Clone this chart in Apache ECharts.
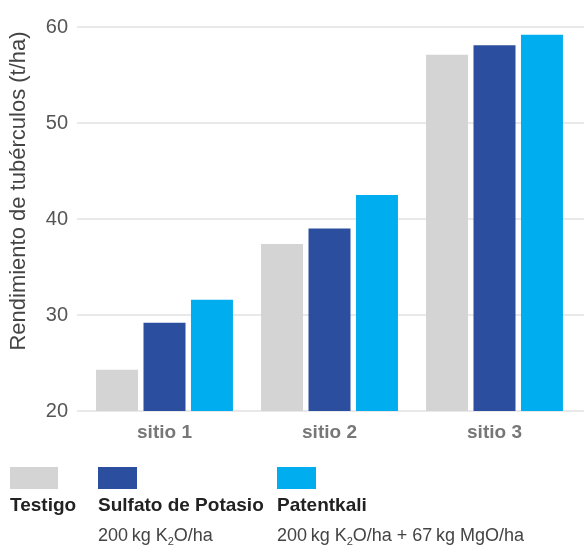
<!DOCTYPE html>
<html>
<head>
<meta charset="utf-8">
<script src="https://cdn.jsdelivr.net/npm/echarts@6/dist/echarts.min.js"></script>
<style>
  html, body { margin: 0; padding: 0; background: #fff; }
  #chart { width: 584px; height: 551px; }
</style>
</head>
<body>
<div id="chart"></div>
<script>
// Tuber yield per site under three fertiliser treatments
const sites = ['sitio 1', 'sitio 2', 'sitio 3'];
const testigo = [24.3, 37.4, 57.1];
const sulfato = [29.2, 39.0, 58.1];
const patentkali = [31.6, 42.5, 59.2];

const yTitle = 'Rendimiento de tubérculos (t/ha)';
const seriesNames = ['Testigo', 'Sulfato de Potasio', 'Patentkali'];
const doses = ['', '200\u2009kg K{sub|2}O/ha', '200\u2009kg K{sub|2}O/ha + 67\u2009kg MgO/ha'];
const colors = ['#d4d4d4', '#2b4f9e', '#00aeef'];

const yMin = 20, yMax = 60, yStep = 10;
const FONT = '"Liberation Sans", Arial, sans-serif';

const chart = echarts.init(document.getElementById('chart'), null, { renderer: 'canvas' });

const graphic = [];

// vertical axis title
graphic.push({
  type: 'text', x: 19, y: 191, rotation: Math.PI / 2,
  style: {
    text: yTitle, font: '22px ' + FONT, fill: '#444',
    align: 'center', verticalAlign: 'middle'
  }
});

// legend blocks drawn below the plot
const legendX = [10, 98, 277];
const swatchW = [48, 39, 39];
seriesNames.forEach((name, i) => {
  graphic.push({
    type: 'rect', left: legendX[i], top: 467,
    shape: { width: swatchW[i], height: 22 },
    style: { fill: colors[i] }
  });
  graphic.push({
    type: 'text', left: legendX[i], top: 496,
    style: { text: name, font: 'bold 19px ' + FONT, fill: '#222' }
  });
  if (doses[i]) {
    graphic.push({
      type: 'text', left: legendX[i], top: 527,
      style: {
        text: doses[i],
        font: '18px ' + FONT, fill: '#444',
        rich: { sub: { fontSize: 11, fontFamily: FONT, fill: '#444', padding: [11, 0, 0, 0] } }
      }
    });
  }
});

const data = [testigo, sulfato, patentkali];

chart.setOption({
  animation: false,
  grid: [
    // background grid carrying the long horizontal rules and tick labels
    { left: 77, right: 0, top: 27, bottom: 140 },
    // plotting grid for the bars
    { left: 82, right: 7, top: 27, bottom: 140 }
  ],
  xAxis: [
    { type: 'category', gridIndex: 0, data: sites, show: false },
    {
      type: 'category', gridIndex: 1, data: sites,
      axisLine: { show: false }, axisTick: { show: false },
      axisLabel: { color: '#777', fontFamily: FONT, fontWeight: 'bold', fontSize: 19, margin: 12 }
    }
  ],
  yAxis: [
    {
      type: 'value', gridIndex: 0, min: yMin, max: yMax, interval: yStep,
      axisLine: { show: false }, axisTick: { show: false },
      axisLabel: { color: '#555', fontFamily: FONT, fontSize: 20, margin: 9 },
      splitLine: { lineStyle: { color: '#e2e2e2', width: 1.5 } }
    },
    {
      type: 'value', gridIndex: 1, min: yMin, max: yMax, interval: yStep,
      axisLine: { show: false }, axisTick: { show: false },
      axisLabel: { show: false }, splitLine: { show: false }
    }
  ],
  series: data.map((vals, i) => ({
    type: 'bar', name: seriesNames[i],
    xAxisIndex: 1, yAxisIndex: 1,
    data: vals,
    barWidth: 42, barGap: '13%',
    itemStyle: { color: colors[i] }
  })),
  graphic: graphic
});
</script>
</body>
</html>
